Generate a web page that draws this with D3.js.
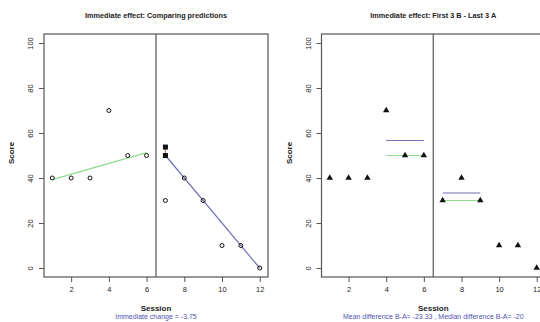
<!DOCTYPE html>
<html>
<head>
<meta charset="utf-8">
<script src="https://cdn.jsdelivr.net/npm/d3@7/dist/d3.min.js"></script>
<style>
  body { margin: 0; background: #fff; }
  text { font-family: "Liberation Sans", Arial, sans-serif; fill: #222; }
</style>
</head>
<body>
<div id="chart"></div>
<script>
// data
var sessions = [1, 2, 3, 4, 5, 6, 7, 8, 9, 10, 11, 12];
var scores   = [40, 40, 40, 70, 50, 50, 30, 40, 30, 10, 10, 0];
var xTicks = [2, 4, 6, 8, 10, 12];
var yTicks = [0, 20, 40, 60, 80, 100];
var phaseChange = 6.5;

// left panel: trend lines and predicted values at session 7
var trendA = [[1, 39.25], [6, 51.25]];
var trendB = [[7, 50], [12, 0]];
var predicted = [[7, 53.75], [7, 50]];
var leftNote = "Immediate change = -3.75";

// right panel: last 3 A vs first 3 B
var meanLines   = [[4, 6, 56.67], [7, 9, 33.33]];
var medianLines = [[4, 6, 50], [7, 9, 30]];
var rightNote = "Mean difference B-A= -23.33 , Median difference B-A= -20";

var titles = ["Immediate effect: Comparing predictions", "Immediate effect: First 3 B - Last 3 A"];

var W = 540, H = 322;
var svg = d3.select("#chart").append("svg").attr("width", W).attr("height", H);
svg.append("rect").attr("width", W).attr("height", H).attr("fill", "#fff");

var green = "#8edc8e", blue = "#7070b4", frame = "#555";

function panel(left, right, title, note) {
  var top = 34, bottom = 277;
  var x = d3.scaleLinear().domain([0.56, 12.44]).range([left, right]);
  var y = d3.scaleLinear().domain([-4, 104]).range([bottom, top]);
  var g = svg.append("g");

  var xa = g.append("g").attr("transform", "translate(0," + bottom + ")")
    .call(d3.axisBottom(x).tickValues(xTicks).tickSize(5).tickSizeOuter(0).tickPadding(5));
  var ya = g.append("g").attr("transform", "translate(" + left + ",0)")
    .call(d3.axisLeft(y).tickValues(yTicks).tickSize(5).tickSizeOuter(0));
  [xa, ya].forEach(function (a) {
    a.select(".domain").remove();
    a.selectAll("line").attr("stroke", frame);
    a.selectAll("text").attr("font-size", "7.5px").attr("fill", "#333")
      .style("font-family", "Liberation Sans, Arial, sans-serif");
  });
  // R style: labels on the left axis read bottom to top
  ya.selectAll("text")
    .attr("text-anchor", "middle")
    .attr("transform", "rotate(-90)")
    .attr("x", 0).attr("y", -11).attr("dy", 0);

  g.append("rect").attr("x", left).attr("y", top)
    .attr("width", right - left).attr("height", bottom - top)
    .attr("fill", "none").attr("stroke", frame).attr("stroke-width", 1.2);
  g.append("line").attr("x1", x(phaseChange)).attr("x2", x(phaseChange))
    .attr("y1", top).attr("y2", bottom).attr("stroke", frame).attr("stroke-width", 1.2);

  var cx = (left + right) / 2;
  g.append("text").attr("x", cx).attr("y", 18).attr("text-anchor", "middle")
    .attr("font-size", "7.3px").attr("font-weight", "bold").text(title);
  g.append("text").attr("x", cx).attr("y", 311).attr("text-anchor", "middle")
    .attr("font-size", "8px").attr("font-weight", "bold").text("Session");
  g.append("text").attr("x", cx).attr("y", 319).attr("text-anchor", "middle")
    .attr("font-size", "7px").style("fill", "#5252b0").text(note);
  g.append("text").attr("transform", "translate(" + (left - 30) + ",153) rotate(-90)")
    .attr("text-anchor", "middle").attr("font-size", "8px").attr("font-weight", "bold").text("Score");

  return { g: g, x: x, y: y };
}

// left panel
var L = panel(44, 268, titles[0], leftNote);
var line = d3.line().x(function (d) { return L.x(d[0]); }).y(function (d) { return L.y(d[1]); });
L.g.append("path").attr("d", line(trendA)).attr("fill", "none").attr("stroke", green).attr("stroke-width", 1.2);
L.g.append("path").attr("d", line(trendB)).attr("fill", "none").attr("stroke", blue).attr("stroke-width", 1.2);
L.g.append("path").attr("d", line(predicted)).attr("fill", "none").attr("stroke", "#c07060").attr("stroke-width", 1);
L.g.selectAll("circle.pt").data(sessions).enter().append("circle")
  .attr("cx", function (d) { return L.x(d); })
  .attr("cy", function (d, i) { return L.y(scores[i]); })
  .attr("r", 2).attr("fill", "none").attr("stroke", "#111").attr("stroke-width", 1);
L.g.selectAll("rect.pred").data(predicted).enter().append("rect")
  .attr("x", function (d) { return L.x(d[0]) - 2.5; })
  .attr("y", function (d) { return L.y(d[1]) - 2.5; })
  .attr("width", 5).attr("height", 5).attr("fill", "#111");

// right panel
var R = panel(321.5, 545, titles[1], rightNote);
R.g.selectAll("line.mean").data(meanLines).enter().append("line")
  .attr("x1", function (d) { return R.x(d[0]); }).attr("x2", function (d) { return R.x(d[1]); })
  .attr("y1", function (d) { return R.y(d[2]); }).attr("y2", function (d) { return R.y(d[2]); })
  .attr("stroke", blue).attr("stroke-width", 1.2);
R.g.selectAll("line.med").data(medianLines).enter().append("line")
  .attr("x1", function (d) { return R.x(d[0]); }).attr("x2", function (d) { return R.x(d[1]); })
  .attr("y1", function (d) { return R.y(d[2]); }).attr("y2", function (d) { return R.y(d[2]); })
  .attr("stroke", green).attr("stroke-width", 1.2);
var tri = d3.symbol().type(d3.symbolTriangle).size(18);
R.g.selectAll("path.pt").data(sessions).enter().append("path")
  .attr("d", tri)
  .attr("transform", function (d, i) { return "translate(" + R.x(d) + "," + R.y(scores[i]) + ")"; })
  .attr("fill", "#111");
</script>
</body>
</html>
